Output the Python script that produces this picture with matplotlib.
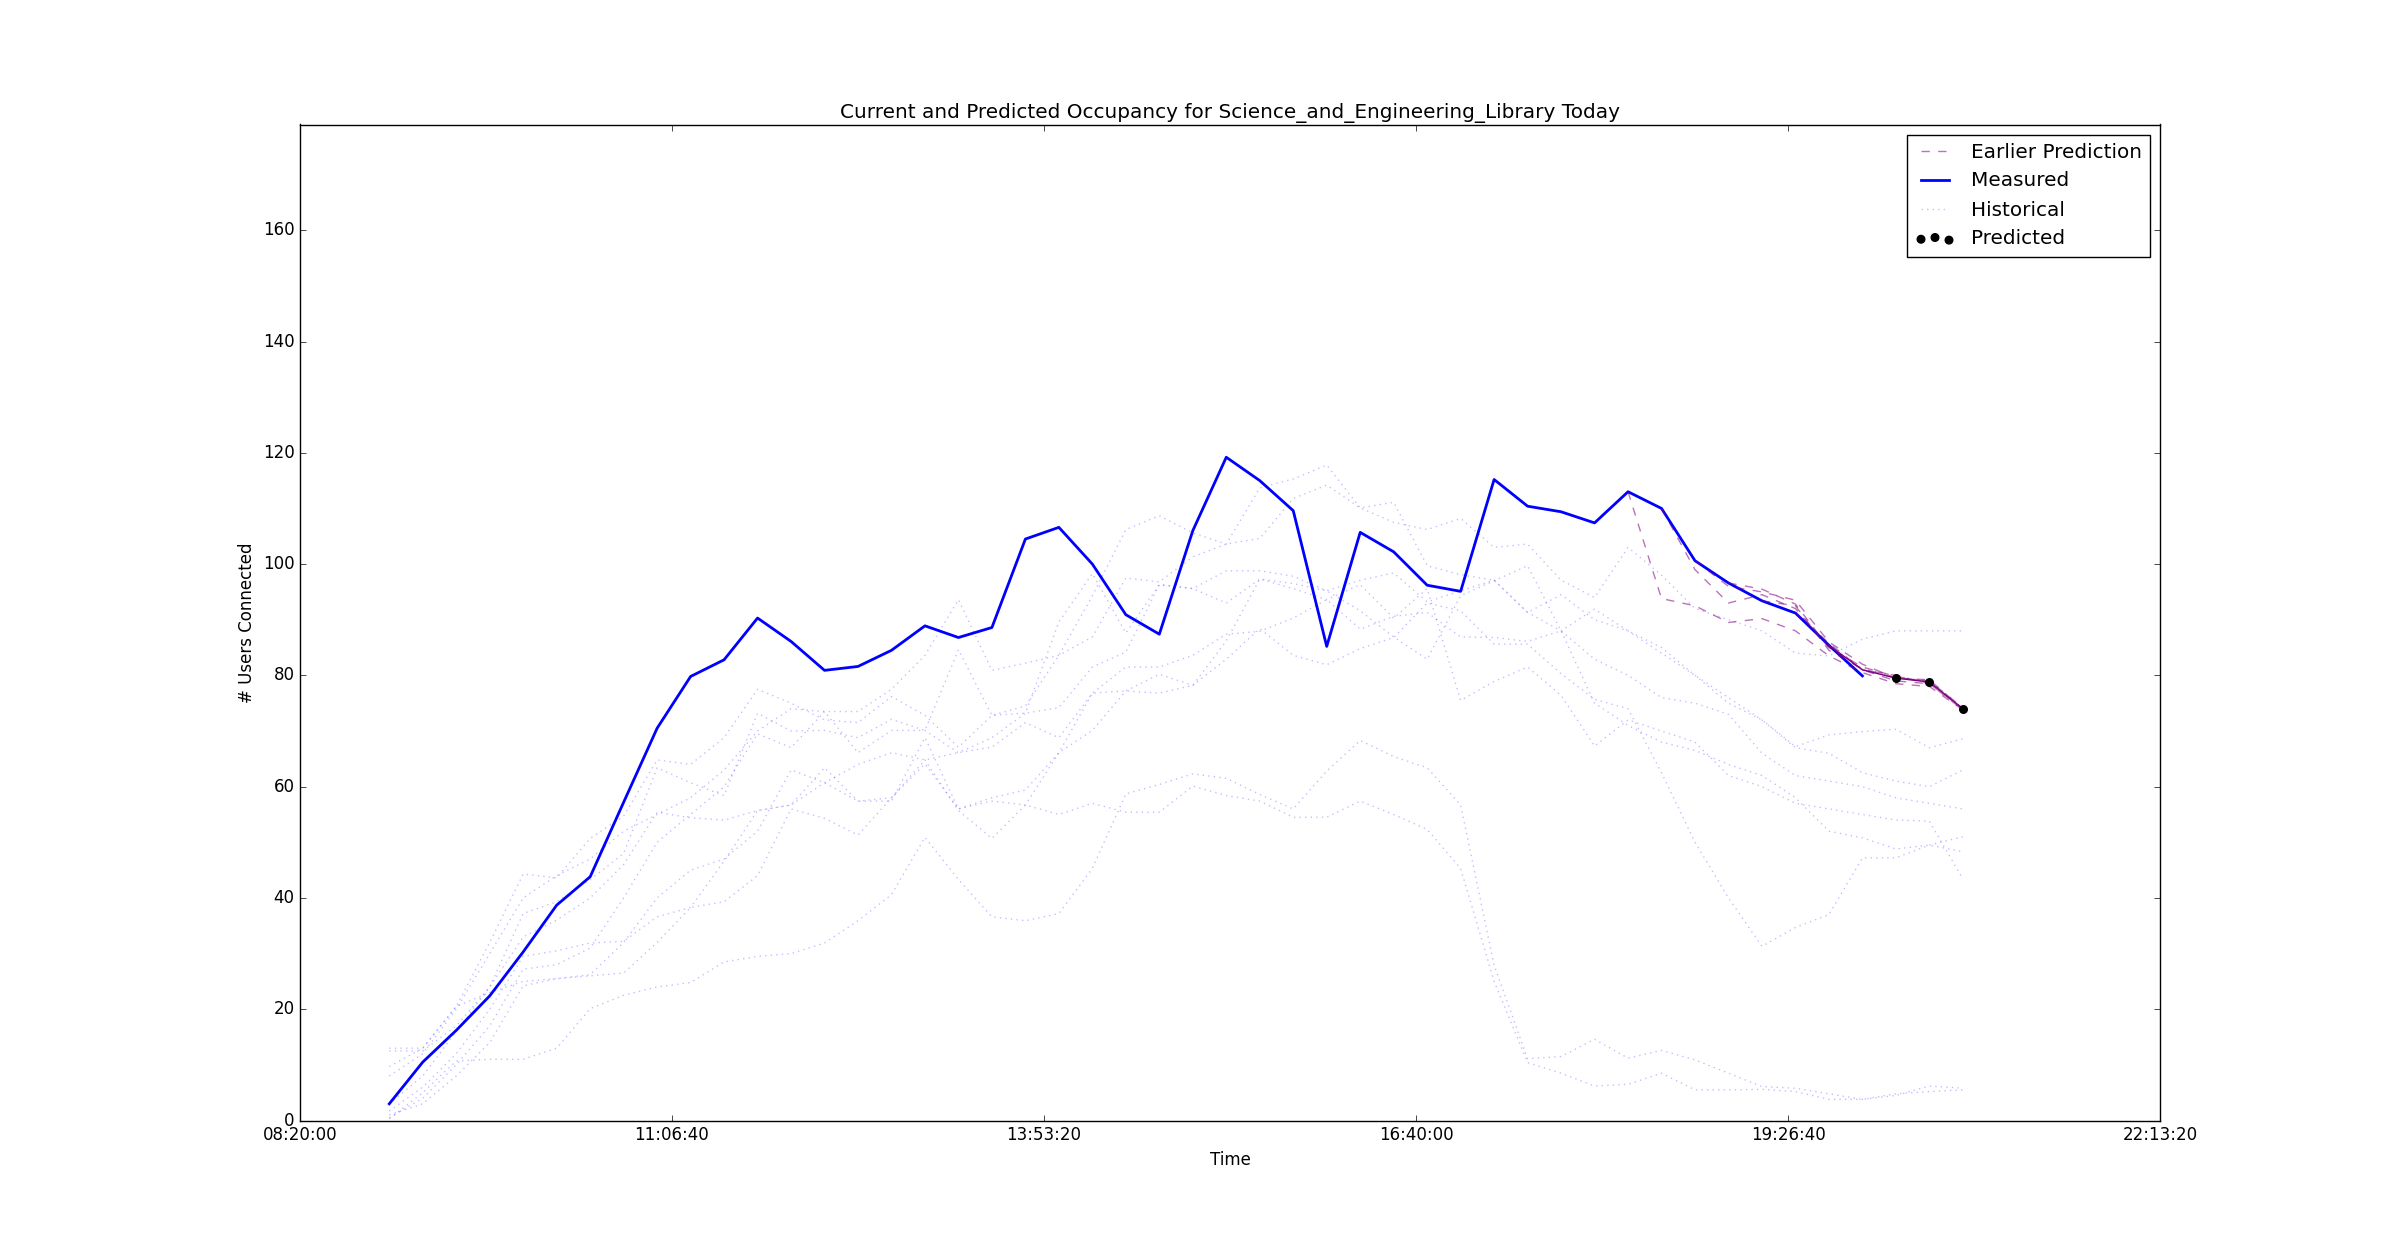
import matplotlib
matplotlib.use("Agg")
import matplotlib.pyplot as plt
from matplotlib.ticker import FuncFormatter, FixedLocator

plt.style.use("classic")

# ---- data -------------------------------------------------------------
start_time = 32400          # 09:00:00, seconds since midnight
step = 900                  # 15-minute samples
n_slots = 48                # 09:00 .. 20:45

measured = [3.0, 10.5, 16.2, 22.4, 30.3, 38.7, 43.8, 57.2, 70.5, 79.8, 82.8, 90.3,
            86.1, 80.9, 81.6, 84.5, 88.9, 86.8, 88.6, 104.5, 106.6, 100.0, 90.9, 87.4,
            106.0, 119.2, 115.0, 109.6, 85.2, 105.7, 102.2, 96.2, 95.1, 115.2, 110.4, 109.4,
            107.4, 113.0, 110.0, 100.6, 96.6, 93.4, 91.2, 85.4, 79.9]

predicted_idx = [45, 46, 47]
predicted = [79.5, 78.8, 74.0]

predicted_path_idx = [43, 44, 45, 46, 47]
predicted_path = [85.4, 81.0, 79.5, 78.8, 74.0]

earlier_start = [37, 38, 39, 40, 41, 42]
earlier_1 = [113.0, 93.8, 92.5, 89.5, 90.2, 88.0, 83.5, 80.5, 78.5, 78.0, 73.8]
earlier_2 = [110.0, 99.0, 93.0, 94.5, 92.0, 85.0, 81.0, 79.0, 78.5, 74.0]
earlier_3 = [100.6, 96.0, 95.0, 93.5, 86.0, 82.0, 79.5, 79.0, 74.2]
earlier_4 = [96.6, 95.5, 92.8, 85.0, 81.5, 79.8, 78.8, 74.0]
earlier_5 = [93.4, 92.5, 84.5, 81.2, 79.5, 79.2, 74.0]
earlier_6 = [91.2, 85.8, 81.0, 80.0, 78.5, 73.8]
earlier = [earlier_1, earlier_2, earlier_3, earlier_4, earlier_5, earlier_6]

hist_a = [8, 12, 20, 30, 40, 44, 47, 52, 55, 58, 63, 70,
          74, 73.5, 73.5, 77.5, 83.6, 93.6, 80.9, 82.2, 83.6, 86.9, 97.5, 96.8,
          101.3, 103.6, 104.6, 111.8, 114.2, 110.1, 107.5, 106.2, 108.2, 103, 103.6, 97.1,
          94, 103, 98, 92, 90, 88, 84, 83.5, 86.5, 88, 88, 88]
hist_b = [13, 13, 20.5, 32, 44.3, 43.6, 50.7, 54.7, 64.8, 64, 68.8, 77.5,
          75, 72, 71.5, 76.2, 72.8, 67.1, 72.8, 74.5, 83.6, 94.3, 106.2, 108.7,
          105.6, 103.6, 113.7, 115.3, 117.8, 110.1, 111.1, 99.7, 98.1, 97.1, 91.3, 88,
          91.9, 88, 85, 80, 75, 72, 67, 66, 62.5, 61, 60, 63]
hist_c = [3, 8, 16, 24, 37.2, 39.3, 43.3, 48, 63.4, 60.7, 58.4, 73.2,
          70, 70.1, 68.8, 72.1, 70.1, 84.6, 72.8, 73.2, 74.2, 81.5, 84.2, 96.3,
          95.6, 98.8, 98.8, 97.8, 95.2, 97.1, 98.4, 93.2, 95.2, 97.1, 91.3, 94.5,
          90, 88, 84, 80, 76, 72, 67.2, 69.3, 69.9, 70.3, 67, 68.6]
hist_d = [12.5, 12.5, 17, 24, 33, 36, 40, 46, 55.4, 54.4, 54, 55.7,
          56.7, 60.7, 64, 66.1, 64.8, 66.1, 67.1, 71.5, 68.8, 76.8, 81.5, 81.5,
          83.6, 87.4, 87.9, 90.3, 93.6, 88.3, 90.6, 91.3, 86.9, 86.8, 86.1, 88,
          82.9, 80, 76, 75, 73, 66, 62, 61, 60, 58, 57, 56]
hist_e = [1.7, 6, 12, 20, 29.5, 30.5, 31.9, 32.2, 36.6, 38.3, 46.6, 55.7,
          56.7, 63.4, 57.4, 58, 64.1, 56, 58, 59.4, 66.1, 70.1, 77.2, 80.2,
          78.2, 82.9, 88.4, 83.6, 81.9, 84.8, 86.8, 93, 91.6, 85.6, 85.6, 80.3,
          75.7, 74, 62.5, 50, 40, 31.3, 34.7, 37, 47.2, 47.2, 49.5, 51]
hist_f = [0.5, 4, 10, 17, 27.2, 28, 31, 40, 50, 55, 60, 69.5,
          67, 73.5, 66.1, 70.1, 70.1, 66.1, 68.8, 73.2, 89.6, 98.3, 87.6, 96.3,
          95.6, 93, 97.3, 96.5, 95.2, 91.6, 86.9, 82.9, 94.3, 97, 99.7, 88,
          75, 71, 68, 66.5, 64, 62, 58, 52, 50.8, 48.8, 49.5, 48.3]
hist_g = [9.7, 13, 20.5, 23, 25, 25.5, 26.2, 32, 40, 45, 47, 52,
          63, 60.7, 57.4, 57.4, 68.8, 56, 57.4, 56.7, 66.1, 76.8, 77.2, 76.8,
          78.2, 86.2, 97.3, 95.6, 93.6, 96.3, 90.3, 95.6, 75.5, 78.9, 81.5, 76.4,
          67.3, 72, 70, 68, 62, 60, 57, 56, 55, 54, 53.8, 43.4]
hist_h = [0.3, 5, 10.7, 11, 11, 13, 20.1, 22.5, 24, 24.8, 28.5, 29.5,
          30, 31.9, 35.9, 40.6, 50.9, 43.3, 36.6, 35.9, 37.2, 45.3, 58.7, 60.4,
          62.3, 61.5, 58.6, 56, 62.8, 68.3, 65.4, 63.4, 56.7, 27.9, 11.1, 11.5,
          14.6, 11.2, 12.6, 10.9, 8.5, 6.1, 5.8, 4.8, 3.8, 4.5, 6.2, 5.8]
hist_i = [1, 3, 8, 14, 24.2, 25.5, 26, 26.5, 32, 38.3, 39.3, 44,
          56, 54.3, 51.3, 58, 64.8, 55.7, 50.7, 56.7, 55, 57, 55.4, 55.4,
          60.1, 58.4, 57.4, 54.5, 54.5, 57.4, 55, 52.3, 45.3, 25, 10.4, 8.5,
          6.2, 6.5, 8.5, 5.5, 5.5, 5.6, 5.2, 3.8, 3.8, 4.8, 5.2, 5.5]
historical = [hist_a, hist_b, hist_c, hist_d, hist_e, hist_f, hist_g, hist_h, hist_i]

x_ticks = [30000, 40000, 50000, 60000, 70000, 80000]
y_ticks = [0, 20, 40, 60, 80, 100, 120, 140, 160]
title = "Current and Predicted Occupancy for Science_and_Engineering_Library Today"

# ---- helpers ----------------------------------------------------------
def t(i):
    return start_time + step * i

def hms(v, pos=None):
    v = int(round(v))
    return "%02d:%02d:%02d" % (v // 3600, (v % 3600) // 60, v % 60)

# ---- plot -------------------------------------------------------------
fig = plt.figure(figsize=(24, 12.45), dpi=100)
ax = fig.add_subplot(111)

h_hist = None
for series in historical:
    xs = [t(i) for i in range(len(series))]
    ln, = ax.plot(xs, series, linestyle=":", color="blue", alpha=0.25, linewidth=1)
    h_hist = ln

xs_m = [t(i) for i in range(len(measured))]
h_meas, = ax.plot(xs_m, measured, color="blue", linewidth=2)

h_early = None
for s, series in zip(earlier_start, earlier):
    xs = [t(s + k) for k in range(len(series))]
    ln, = ax.plot(xs, series, linestyle="--", color="purple", alpha=0.55, linewidth=1)
    h_early = ln

ax.plot([t(i) for i in predicted_path_idx], predicted_path, color="purple", linewidth=1)
h_pred = ax.scatter([t(i) for i in predicted_idx], predicted, color="black", s=30, zorder=5)

ax.set_xlim(30000, 80000)
ax.set_ylim(0, 179)
ax.xaxis.set_major_locator(FixedLocator(x_ticks))
ax.xaxis.set_major_formatter(FuncFormatter(hms))
ax.yaxis.set_major_locator(FixedLocator(y_ticks))

ax.set_title(title)
ax.set_xlabel("Time")
ax.set_ylabel("# Users Connected")

ax.legend([h_early, h_meas, h_hist, h_pred],
          ["Earlier Prediction", "Measured", "Historical", "Predicted"],
          loc="upper right", scatterpoints=3)

fig.savefig("out.png", dpi=100, facecolor="white")
